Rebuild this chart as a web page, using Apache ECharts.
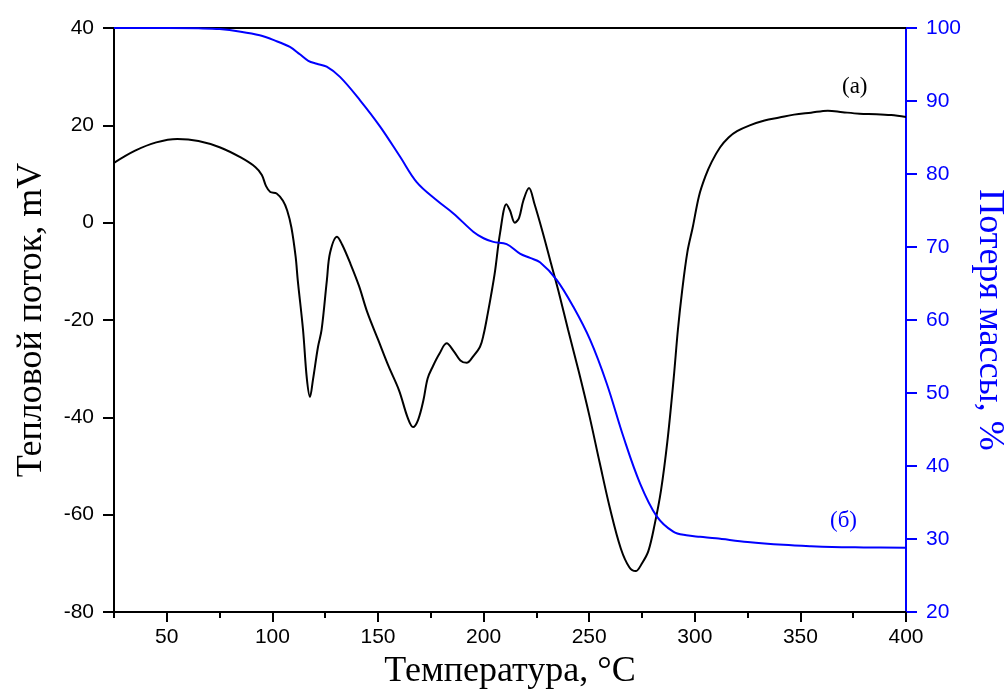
<!DOCTYPE html>
<html><head><meta charset="utf-8">
<script src="https://cdn.jsdelivr.net/npm/echarts@6/dist/echarts.min.js"></script>
<style>html,body{margin:0;padding:0;background:#fff}#c{width:1006px;height:697px}</style>
</head><body><div id="c"></div>
<script>
// DSC curve (a): temperature, heat flow (mV)
const dscT = [25,35,45,55,65,75,85,92,95,97,99,102,105,107,109,111,112,114.5,116.3,117.8,119.2,121.6,123.3,125.8,127.3,130.6,133,137,141,145,150,155,160,164,166.6,169,171.5,173.5,176,179,182.5,186,189,192,195,198.3,200,202,203.5,205.4,207.8,210.8,212.5,214.8,216.8,218.8,221.5,224,228,232,236,240,245,250,255,260,265,269,272,275,278,281,284,287,290,292,294,296.5,299,302,305,308,312,316,320,326,333,340,347,355,363,370,378,386,393,400];
const dscV = [12.3,14.8,16.5,17.2,16.8,15.5,13.4,11.4,9.8,7.5,6.3,6.0,4.5,2.5,-1,-7,-11.8,-22,-32,-35.8,-32.3,-25.5,-22,-11.8,-6.2,-2.9,-4.5,-8.5,-13,-18.5,-24,-29.5,-34.5,-40,-42,-40.5,-36.5,-32,-29.5,-27,-24.8,-26.5,-28.3,-28.8,-27.5,-25.5,-23,-18.6,-15,-10,-2.1,3.8,2.5,0,1,4.5,7.1,4,-2,-8.5,-15,-22,-30.5,-39.5,-49.4,-59,-67,-70.8,-71.6,-70,-67.5,-62,-55,-45,-32,-22,-14,-6,-1,5.5,9.5,12.5,15.5,17.5,18.8,20,21,21.6,22.2,22.6,23,22.7,22.4,22.3,22.1,21.7];
// TG curve (б): temperature, mass (%)
const tgT = [25,50,65,75,85,94,101,108.3,113,117,121,125.7,132,141.5,151,160.4,168.3,177.8,185.7,195.1,200,204.6,210.9,217.2,222,226.7,234.6,242.5,250.4,258.3,266.2,274.1,282,289.8,296,302.5,310,325,342,355,365,380,400];
const tgV = [100,100,99.95,99.85,99.5,99.0,98.3,97.4,96.4,95.5,95.1,94.7,93.3,90.1,86.5,82.4,78.9,76.4,74.6,72.1,71.2,70.7,70.4,69.1,68.5,67.9,65.5,61.8,57.3,51.3,44.0,37.6,33.1,31.0,30.5,30.3,30.1,29.6,29.2,29.0,28.9,28.85,28.8];
const xMajor = [50,100,150,200,250,300,350,400];
const xMinor = [25,75,125,175,225,275,325,375];

const chart = echarts.init(document.getElementById('c'));
const tickFont = {fontFamily:'Liberation Sans', fontSize:21};
chart.setOption({
  animation:false,
  grid:{left:114,right:100,top:28,bottom:85,containLabel:false,outerBoundsMode:'none'},
  xAxis:[
    {type:'value',min:25,max:400,position:'bottom',
     name:'Температура, °C',nameLocation:'middle',nameGap:42,
     nameTextStyle:{fontFamily:'Liberation Serif',fontSize:36,color:'#000'},
     axisLine:{onZero:false,lineStyle:{color:'#000',width:2}},
     axisTick:{show:true,length:10,lineStyle:{color:'#000',width:2},customValues:xMajor},
     axisLabel:{show:true,color:'#000',margin:15,customValues:xMajor,...tickFont},
     splitLine:{show:false}},
    {type:'value',min:25,max:400,position:'bottom',
     axisLine:{show:false,onZero:false},
     axisTick:{show:true,length:6,lineStyle:{color:'#000',width:2},customValues:xMinor},
     axisLabel:{show:false},splitLine:{show:false}},
    {type:'value',min:25,max:400,position:'top',
     axisLine:{show:true,onZero:false,lineStyle:{color:'#000',width:2}},
     axisTick:{show:false},axisLabel:{show:false},splitLine:{show:false}}
  ],
  yAxis:[
    {type:'value',min:-80,max:40,interval:20,position:'left',
     name:'Тепловой поток, mV',nameLocation:'middle',nameGap:64,
     nameTextStyle:{fontFamily:'Liberation Serif',fontSize:36,color:'#000'},
     axisLine:{show:true,onZero:false,lineStyle:{color:'#000',width:2}},
     axisTick:{show:true,length:11,lineStyle:{color:'#000',width:2}},
     axisLabel:{color:'#000',margin:20,...tickFont},
     splitLine:{show:false}},
    {type:'value',min:20,max:100,interval:10,position:'right',
     name:'Потеря массы, %',nameLocation:'middle',nameGap:57,nameRotate:-90,
     nameTextStyle:{fontFamily:'Liberation Serif',fontSize:36,color:'#0000ff'},
     axisLine:{show:true,onZero:false,lineStyle:{color:'#0000ff',width:2}},
     axisTick:{show:true,length:11,lineStyle:{color:'#0000ff',width:2}},
     axisLabel:{color:'#0000ff',margin:20,...tickFont},
     splitLine:{show:false}}
  ],
  graphic:[
    {type:'text',left:842,top:75,style:{text:'(а)',fontFamily:'Liberation Serif',fontSize:23,fill:'#000'}},
    {type:'text',left:830,top:509,style:{text:'(б)',fontFamily:'Liberation Serif',fontSize:23,fill:'#0000ff'}}
  ],
  series:[
    {type:'line',xAxisIndex:0,yAxisIndex:0,showSymbol:false,smooth:0.35,
     lineStyle:{color:'#000',width:2},data:dscT.map((t,i)=>[t,dscV[i]])},
    {type:'line',xAxisIndex:0,yAxisIndex:1,showSymbol:false,smooth:0.35,
     lineStyle:{color:'#0000ff',width:2},data:tgT.map((t,i)=>[t,tgV[i]])}
  ]
});
</script></body></html>
